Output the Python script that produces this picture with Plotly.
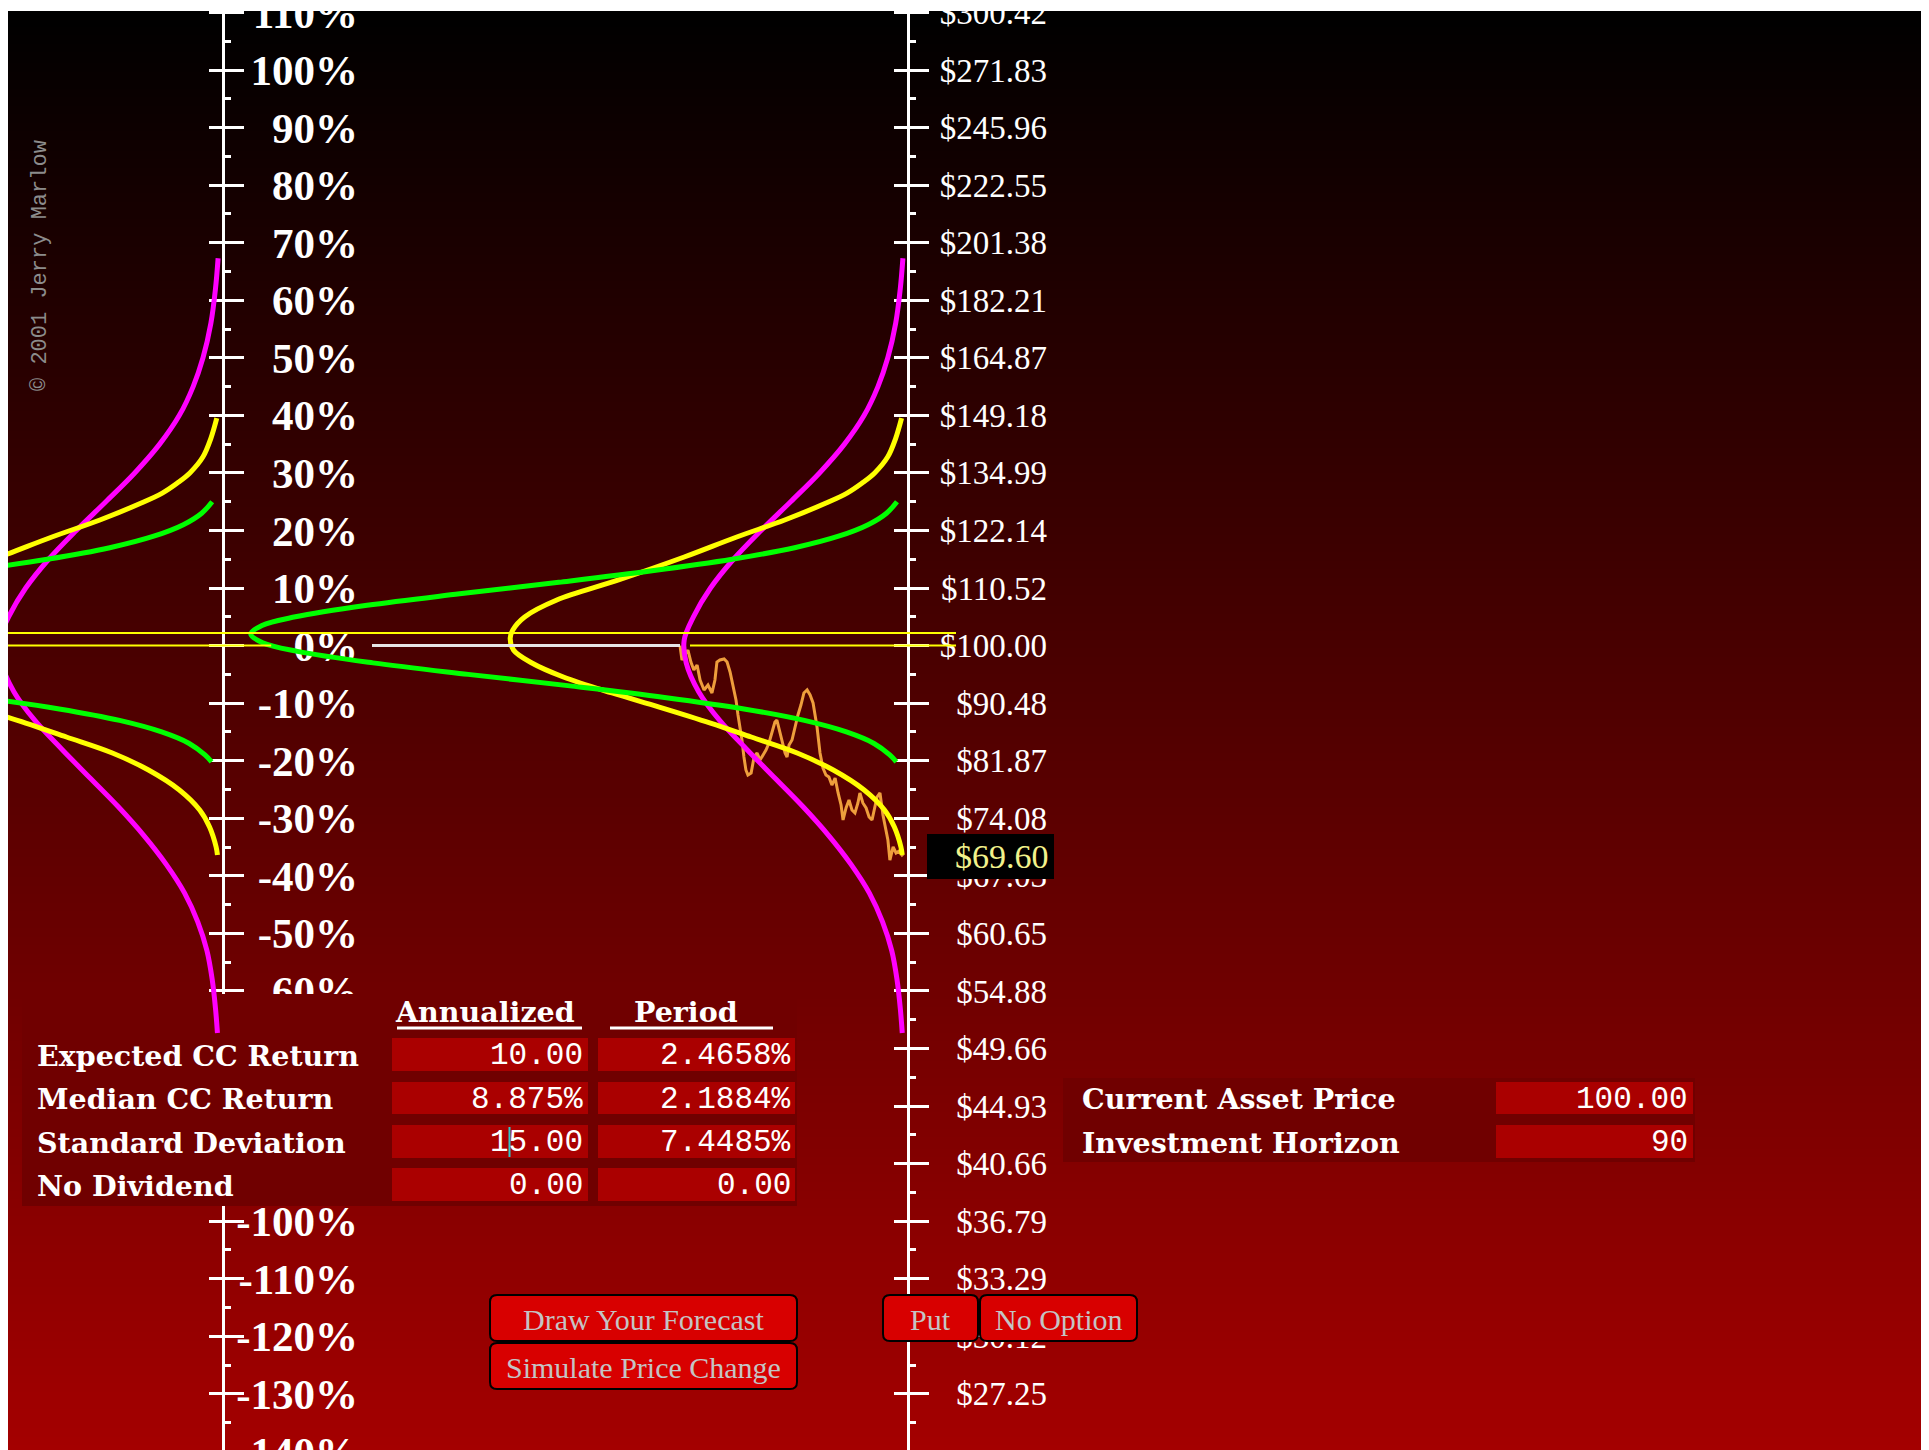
import base64
import struct
import zlib

import numpy as np
import plotly.graph_objects as go

# ------------------------------------------------------------------ data
PCT_TICKS = [110, 100, 90, 80, 70, 60, 50, 40, 30, 20, 10, 0,
             -10, -20, -30, -40, -50, -60, -70, -80, -90, -100,
             -110, -120, -130, -140]
# -70% .. -90% sit behind the input panel, so their labels are blank
PCT_LABELS = ["110%", "100%", "90%", "80%", "70%", "60%", "50%", "40%",
              "30%", "20%", "10%", "0%", "-10%", "-20%", "-30%", "-40%",
              "-50%", "-60%", "", "", "", "-100%", "-110%",
              "-120%", "-130%", "-140%"]
PRICE_LABELS = ["$300.42", "$271.83", "$245.96", "$222.55", "$201.38",
                "$182.21", "$164.87", "$149.18", "$134.99", "$122.14",
                "$110.52", "$100.00", "$90.48", "$81.87", "$74.08",
                "$67.03", "$60.65", "$54.88", "$49.66", "$44.93",
                "$40.66", "$36.79", "$33.29", "$30.12", "$27.25", ""]
MINOR_TICKS = [105, 95, 85, 75, 65, 55, 45, 35, 25, 15, 5, -5, -15, -25,
               -35, -45, -55, -65, -75, -85, -95, -105, -115, -125, -135]

# distribution curves: continuously-compounded return (%) vs relative density
MAG_RET = [67.3, 62, 56, 50, 45, 40, 35, 30, 25, 20, 15, 10, 5, 1,
           -3, -8, -13, -18, -23, -28, -33, -38, -43, -48, -53, -58, -63,
           -67.3]
MAG_DEN = [0.7, 1.1, 1.8, 3.0, 4.5, 6.6, 9.6, 13.4, 17.8, 22.3, 26.5, 30.0,
           32.6, 34.0, 33.7, 31.8, 28.6, 24.5, 20.2, 15.9, 12.0, 8.6, 5.8,
           3.8, 2.4, 1.6, 1.1, 0.8]

YEL_RET = [39.5, 36.0, 32.8, 30.0, 28.25, 26.5, 24.77, 21.82, 18.87, 15.39,
           11.4, 7.92, 4.97, 2.71, 1.3, -0.76, -3.02, -5.45, -8.23, -10.67,
           -13.45, -15.88, -18.66, -21.61, -25.08, -28.56, -31.52, -34.99,
           -36.38]
YEL_DEN = [0.9, 1.8, 3.0, 5.0, 6.9, 9.2, 12.4, 18.7, 26.0, 34.0, 44.0, 53.4,
           58.3, 60.1, 60.5, 60.0, 57.2, 52.4, 45.0, 37.8, 30.0, 23.8, 16.8,
           11.3, 6.6, 3.5, 2.0, 1.0, 0.8]

GRN_RET = [25.0, 23.0, 21.0, 19.0, 17.0, 15.0, 13.0, 11.0, 9.0, 7.0, 5.0,
           3.5, 2.0, 0.5, -1.0, -3.0, -5.0, -7.0, -9.0, -11.0, -13.0, -15.0,
           -17.0, -19.0, -20.2]
GRN_DEN = [1.6, 3.2, 6.0, 10.5, 17.2, 26.7, 38.9, 53.1, 68.2, 82.3, 93.2,
           98.3, 100.0, 98.2, 92.9, 81.4, 66.9, 51.4, 37.0, 24.9, 15.7, 9.3,
           5.1, 2.7, 1.7]

# simulated price path over the 90-day horizon
PATH_DAY = [0.0, 0.8, 2.0, 3.2, 4.4, 5.6, 6.9, 8.1, 9.7, 11.3, 12.9, 14.1,
            14.9, 16.1, 17.8, 19.0, 20.2, 21.4, 22.6, 23.4, 24.2, 25.0,
            25.8, 26.6, 27.4, 28.7, 29.9, 31.1, 32.3, 33.5, 34.7, 35.9,
            37.1, 38.3, 39.1, 40.4, 41.2, 42.4, 43.2, 44.0, 45.2, 46.4,
            47.6, 48.8, 50.0, 51.3, 52.5, 53.7, 54.5, 55.3, 56.5, 57.7,
            58.9, 60.1, 61.3, 62.6, 63.8, 65.0, 65.8, 67.0, 68.2, 69.4,
            70.6, 71.8, 72.6, 73.8, 75.1, 76.3, 77.5, 78.7, 79.5, 80.7,
            81.9, 83.1, 83.9, 84.7, 86.0, 87.2, 88.4, 89.6, 90.0]
PATH_PRICE = [100.00, 97.53, 98.38, 99.24, 97.19, 95.85, 96.69, 94.20,
              92.58, 93.39, 92.10, 94.20, 97.19, 97.53, 97.70, 97.19, 95.52,
              93.39, 90.98, 88.64, 86.81, 84.87, 82.40, 80.57, 79.87, 80.15,
              82.40, 82.98, 81.97, 82.69, 83.41, 84.43, 85.91, 87.57, 87.87,
              85.91, 84.87, 82.98, 82.40, 84.14, 84.87, 86.81, 88.64, 90.19,
              92.10, 92.58, 91.78, 90.51, 88.64, 86.81, 82.98, 80.85, 79.87,
              79.59, 78.49, 79.45, 77.41, 75.81, 73.86, 75.42, 76.47, 75.16,
              74.77, 76.08, 77.41, 76.08, 75.42, 74.25, 73.86, 75.81, 76.87,
              77.41, 74.50, 72.59, 71.34, 68.90, 70.48, 69.75, 69.99, 69.50,
              69.60]
assert len(PATH_DAY) == len(PATH_PRICE)

CURRENT_PRICE = 100.0
MEDIAN_RET = 2.1884
FINAL_LABEL = "$69.60"

ROW_LABELS = ["Expected CC Return", "Median CC Return",
              "Standard Deviation", "No Dividend"]
ANNUALIZED = ["10.00", "8.875%", "15.00", "0.00"]
PERIOD = ["2.4658%", "2.1884%", "7.4485%", "0.00"]
COL_HEADERS = ["Annualized", "Period"]
SIDE_LABELS = ["Current Asset Price", "Investment Horizon"]
SIDE_VALUES = ["100.00", "90"]
BUTTONS = ["Draw Your Forecast", "Simulate Price Change", "Put", "No Option"]
COPYRIGHT = "\u00a9 2001 Jerry Marlow"

# ------------------------------------------------------------ geometry
BODY = 8                 # page margin around the figure
W, H = 1929, 1450
M_TOP = 3
PLOT_T, PLOT_B = BODY + M_TOP, BODY + H        # screen rows of the plot area
PLOT_L, PLOT_R = BODY, BODY + W

ZERO_SY, PX_PER_PCT = 645.6, 5.756
DAY0_SX, PX_PER_DAY = 680.0, 2.478


def xp(sx):
    return (sx - PLOT_L) / (PLOT_R - PLOT_L)


def yp(sy):
    return (PLOT_B - sy) / (PLOT_B - PLOT_T)


def day(sx):
    return (sx - DAY0_SX) / PX_PER_DAY


def pct(sy):
    return (ZERO_SY - sy) / PX_PER_PCT


XMIN, XMAX = day(PLOT_L), day(PLOT_R)
YMIN, YMAX = pct(PLOT_B), pct(PLOT_T)

AXL_SX, AXR_SX = 222.7, 907.5
AXL_DAY, AXR_DAY = day(AXL_SX), day(AXR_SX)
AX_GAP = AXR_DAY - AXL_DAY
DEN_DAYS = 6.567 / PX_PER_DAY      # days of width per density unit


# ------------------------------------------------------------ background
def gradient_png(h=512, top=(0, 0, 0), bottom=(165, 0, 0)):
    raw = b""
    for i in range(h):
        t = i / (h - 1)
        c = bytes(int(round(a + (b - a) * t)) for a, b in zip(top, bottom))
        raw += b"\x00" + c

    def chunk(tag, data):
        return (struct.pack(">I", len(data)) + tag + data +
                struct.pack(">I", zlib.crc32(tag + data) & 0xFFFFFFFF))

    png = (b"\x89PNG\r\n\x1a\n" +
           chunk(b"IHDR", struct.pack(">IIBBBBB", 1, h, 8, 2, 0, 0, 0)) +
           chunk(b"IDAT", zlib.compress(raw)) + chunk(b"IEND", b""))
    return "data:image/png;base64," + base64.b64encode(png).decode()


fig = go.Figure()

# table panel (a trace so it hides the left axis but stays under the curves)
TP = (22, 797, 994, 1206)
fig.add_trace(go.Scatter(
    x=[day(TP[0]), day(TP[1]), day(TP[1]), day(TP[0]), day(TP[0])],
    y=[pct(TP[2]), pct(TP[2]), pct(TP[3]), pct(TP[3]), pct(TP[2])],
    mode="lines", fill="toself", fillcolor="#700000",
    line=dict(width=0), hoverinfo="skip"))

# simulated path
fig.add_trace(go.Scatter(
    x=PATH_DAY, y=100 * np.log(np.array(PATH_PRICE) / CURRENT_PRICE),
    mode="lines", line=dict(color="#EE9E3C", width=3), hoverinfo="skip"))

# distribution curves, hung from both axes
for ret, den, col in [(MAG_RET, MAG_DEN, "#FF00FF"),
                      (YEL_RET, YEL_DEN, "#FFFF00"),
                      (GRN_RET, GRN_DEN, "#00FF00")]:
    for ax_day in (AXR_DAY, AXL_DAY):
        fig.add_trace(go.Scatter(
            x=[ax_day - d * DEN_DAYS for d in den], y=ret, mode="lines",
            line=dict(color=col, width=5, shape="spline", smoothing=1.0),
            hoverinfo="skip"))

# reference lines (current-price line in two copies, one per axis)
LINE_END = day(956)
for shift in (0, AX_GAP):
    fig.add_trace(go.Scatter(x=[day(690) - shift, LINE_END - shift], y=[0, 0],
                             mode="lines", line=dict(color="#FFFF00", width=2),
                             hoverinfo="skip"))
fig.add_trace(go.Scatter(x=[XMIN, LINE_END], y=[MEDIAN_RET, MEDIAN_RET],
                         mode="lines", line=dict(color="#FFFF00", width=2),
                         hoverinfo="skip"))
fig.add_trace(go.Scatter(x=[day(372), PATH_DAY[0]], y=[0, 0], mode="lines",
                         line=dict(color="#E6E6E6", width=3), hoverinfo="skip"))

# empty traces so every overlay axis owns a subplot
for k in range(2, 7):
    fig.add_trace(go.Scatter(x=[], y=[], yaxis=f"y{k}", hoverinfo="skip"))

# ------------------------------------------------------------ axes
common = dict(range=[YMIN, YMAX], showgrid=False, zeroline=False,
              tickmode="array", tickvals=PCT_TICKS, anchor="free",
              layer="below traces", fixedrange=True)
line_ax = dict(showline=True, linecolor="white", linewidth=3,
               ticks="outside", ticklen=13, tickwidth=3, tickcolor="white",
               showticklabels=False, side="left")
tick_ax = dict(showline=False, ticks="outside", ticklen=20, tickwidth=3,
               tickcolor="white", showticklabels=False, side="right",
               minor=dict(tickmode="array", tickvals=MINOR_TICKS,
                          ticks="outside", ticklen=7, tickwidth=3,
                          tickcolor="white"))
lab_ax = dict(showline=False, ticks="", side="left", showticklabels=True,
              ticklabeloverflow="allow")

fig.update_layout(
    width=W, height=H, template="none",
    margin=dict(l=0, r=0, t=M_TOP, b=0, pad=0),
    paper_bgcolor="white", plot_bgcolor="rgba(0,0,0,0)",
    showlegend=False,
    xaxis=dict(range=[XMIN, XMAX], visible=False, fixedrange=True),
    yaxis=dict(common, **line_ax, position=xp(AXL_SX)),
    yaxis2=dict(common, **tick_ax, overlaying="y", position=xp(AXL_SX)),
    yaxis3=dict(common, **lab_ax, overlaying="y", position=xp(358),
                ticktext=PCT_LABELS,
                tickfont=dict(family="Liberation Serif", size=43,
                              color="white", weight="bold")),
    yaxis4=dict(common, **line_ax, overlaying="y", position=xp(AXR_SX)),
    yaxis5=dict(common, **tick_ax, overlaying="y", position=xp(AXR_SX)),
    yaxis6=dict(common, **lab_ax, overlaying="y", position=xp(1047),
                ticktext=PRICE_LABELS,
                tickfont=dict(family="Liberation Serif", size=33,
                              color="white")),
    images=[dict(source=gradient_png(), xref="paper", yref="paper",
                 x=0, y=1, sizex=1, sizey=1, xanchor="left", yanchor="top",
                 sizing="stretch", layer="below")],
)

# ------------------------------------------------------------ decorations
shapes = []
annots = []


def rect(x0, y0, x1, y1, fill, layer="above", line_w=0, line_c=None):
    shapes.append(dict(type="rect", xref="paper", yref="paper",
                       x0=xp(x0), x1=xp(x1), y0=yp(y1), y1=yp(y0),
                       fillcolor=fill, layer=layer,
                       line=dict(width=line_w, color=line_c or fill)))


def rrect(x0, y0, x1, y1, r, fill):
    p = (f"M {xp(x0 + r)},{yp(y0)} L {xp(x1 - r)},{yp(y0)} "
         f"Q {xp(x1)},{yp(y0)} {xp(x1)},{yp(y0 + r)} L {xp(x1)},{yp(y1 - r)} "
         f"Q {xp(x1)},{yp(y1)} {xp(x1 - r)},{yp(y1)} L {xp(x0 + r)},{yp(y1)} "
         f"Q {xp(x0)},{yp(y1)} {xp(x0)},{yp(y1 - r)} L {xp(x0)},{yp(y0 + r)} "
         f"Q {xp(x0)},{yp(y0)} {xp(x0 + r)},{yp(y0)} Z")
    shapes.append(dict(type="path", xref="paper", yref="paper", path=p,
                       fillcolor=fill, layer="above",
                       line=dict(color="black", width=2)))


def hline(x0, x1, y, color, w):
    shapes.append(dict(type="line", xref="paper", yref="paper",
                       x0=xp(x0), x1=xp(x1), y0=yp(y), y1=yp(y),
                       layer="above", line=dict(color=color, width=w)))


def text(s, x, y, anchor, font, angle=0):
    annots.append(dict(text=s, xref="paper", yref="paper", x=xp(x), y=yp(y),
                       xanchor=anchor, yanchor="middle", showarrow=False,
                       font=font, textangle=angle, borderpad=0))


LABEL_FONT = dict(family="DejaVu Serif", size=28.5, color="white",
                  weight="bold")
MONO_FONT = dict(family="Liberation Mono", size=31, color="white")
BTN_FONT = dict(family="Liberation Serif", size=30, color="#C4C4C4")

# table inputs
COLS = [(392, 588), (598, 795)]
ROWS = [(1038, 1071), (1082, 1114), (1125, 1158), (1168, 1201)]
for (r0, r1), lab, a, p in zip(ROWS, ROW_LABELS, ANNUALIZED, PERIOD):
    for (c0, c1) in COLS:
        rect(c0, r0, c1, r1, "#AA0000")
    text(lab, 36, (r0 + r1) / 2 + 1, "left", LABEL_FONT)
    text(a, COLS[0][1] - 4, (r0 + r1) / 2 + 1, "right", MONO_FONT)
    text(p, COLS[1][1] - 3, (r0 + r1) / 2 + 1, "right", MONO_FONT)

text(COL_HEADERS[0], 485, 1012, "center", LABEL_FONT)
text(COL_HEADERS[1], 686, 1012, "center", LABEL_FONT)
hline(397, 582, 1028, "white", 3)
hline(610, 773, 1028, "white", 3)
shapes.append(dict(type="line", xref="paper", yref="paper", x0=xp(509.5),
                   x1=xp(509.5), y0=yp(1157), y1=yp(1127), layer="above",
                   line=dict(color="#30C8C8", width=2)))

# right panel
rect(1063, 1078, 1695, 1162, "#700000", layer="below")
for (r0, r1), lab, v in zip(ROWS[1:3], SIDE_LABELS, SIDE_VALUES):
    rect(1496, r0, 1693, r1, "#AA0000")
    text(lab, 1081, (r0 + r1) / 2 + 1, "left", LABEL_FONT)
    text(v, 1689, (r0 + r1) / 2 + 1, "right", MONO_FONT)

# buttons
BTN_BOXES = [(490, 1295, 797, 1341), (490, 1343, 797, 1389),
             (883, 1295, 978, 1341), (980, 1295, 1137, 1341)]
for (x0, y0, x1, y1), lab in zip(BTN_BOXES, BUTTONS):
    rrect(x0, y0, x1, y1, 7, "#D80000")
    text(lab, (x0 + x1) / 2, (y0 + y1) / 2 + 1, "center", BTN_FONT)

# final price tag
rect(927, 834, 1054, 879, "black")
text(FINAL_LABEL, 1050, 856.5, "right",
     dict(family="Liberation Serif", size=34, color="#F2F28C"))

# copyright
text(COPYRIGHT, 40, 266, "center",
     dict(family="Liberation Mono", size=22, color="#8C8C8C"), angle=-90)

fig.update_layout(shapes=shapes, annotations=annots)

fig.write_html("out.html", config={"displayModeBar": False})
